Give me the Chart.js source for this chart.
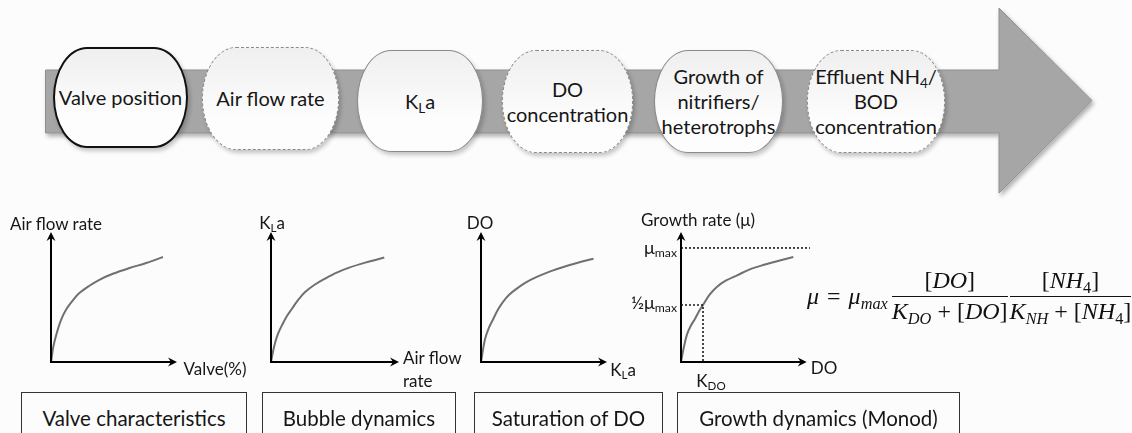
<!DOCTYPE html>
<html><head><meta charset="utf-8">
<script src="https://cdn.jsdelivr.net/npm/chart.js@4.4.1/dist/chart.umd.min.js"></script>
<style>
html,body{margin:0;padding:0;background:#fcfcfc;}
#stage{position:relative;width:1132px;height:433px;overflow:hidden;background:#fcfcfc;font-family:Lato,'Open Sans',sans-serif;color:#161616;}
.t{position:absolute;transform:translate(-50%,-50%);white-space:nowrap;font-size:17px;}
.l{position:absolute;transform:translate(0,-50%);white-space:nowrap;font-size:17px;}
.r{position:absolute;transform:translate(-100%,-50%);white-space:nowrap;font-size:18px;}
sub{font-size:0.68em;vertical-align:-0.28em;line-height:0;}
.node{position:absolute;box-sizing:border-box;border-radius:34px/50%;background:linear-gradient(#efefef,#fdfdfd 70%);box-shadow:2px 3px 4px rgba(0,0,0,0.22);display:flex;align-items:center;justify-content:center;text-align:center;font-size:20px;line-height:25px;}
.solidk{border:2px solid #111;}
.solidg{border:1.5px solid #8a8a8a;}
.dash{border:1.5px dashed #8a8a8a;}
canvas{position:absolute;}
.cap{position:absolute;top:392px;height:70px;box-sizing:border-box;border:1.5px solid #333;font-size:20.5px;text-align:center;padding-top:13px;background:#fcfcfc;}
#eq{position:absolute;left:807px;top:296px;transform:translate(0,-50%);font-family:'Liberation Serif','DejaVu Serif',serif;font-size:24px;display:flex;align-items:center;white-space:nowrap;color:#111;}
#eq i{font-style:italic;}
#eq .eqs{margin:0 8px;}
.frac{display:inline-flex;flex-direction:column;align-items:center;margin:0 1px;}
.frac .num{border-bottom:1.4px solid #111;padding:0 2px 2px;width:100%;text-align:center;box-sizing:border-box;}
.frac .den{padding-top:1px;}
#eq sub{font-size:0.68em;vertical-align:-0.32em;}
</style></head>
<body>
<div id="stage">
<svg width="1132" height="433" style="position:absolute;left:0;top:0">
<defs><filter id="sh" x="-10%" y="-10%" width="130%" height="130%"><feDropShadow dx="2" dy="3" stdDeviation="2" flood-color="#000" flood-opacity="0.3"/></filter></defs>
<polygon points="45.5,70 999,70 999,8 1092,100.5 999,193 999,133 45.5,133" fill="#a6a6a6" stroke="#8f8f8f" stroke-width="1" filter="url(#sh)"/>
</svg>
<div class="node solidk" style="left:53px;top:47px;width:135px;height:101px;"><span>Valve position</span></div>
<div class="node dash" style="left:202px;top:47px;width:137px;height:103px;"><span>Air flow rate</span></div>
<div class="node solidg" style="left:357px;top:50px;width:126px;height:102px;"><span>K<sub>L</sub>a</span></div>
<div class="node dash" style="left:502px;top:50px;width:131px;height:103px;"><span>DO<br>concentration</span></div>
<div class="node solidg" style="left:654px;top:50px;width:129px;height:103px;"><span>Growth of<br>nitrifiers/<br>heterotrophs</span></div>
<div class="node dash" style="left:807px;top:50px;width:138px;height:103px;"><span>Effluent NH<sub>4</sub>/<br>BOD<br>concentration</span></div>

<canvas id="c1"></canvas><canvas id="c2"></canvas><canvas id="c3"></canvas><canvas id="c4"></canvas>

<div class="t" style="left:56px;top:223px;">Air flow rate</div>
<div class="t" style="left:215px;top:368px;">Valve(%)</div>
<div class="t" style="left:272px;top:222px;">K<sub>L</sub>a</div>
<div class="l" style="left:403px;top:357px;">Air flow</div>
<div class="l" style="left:403px;top:380px;">rate</div>
<div class="t" style="left:480px;top:222px;">DO</div>
<div class="t" style="left:623px;top:369px;">K<sub>L</sub>a</div>
<div class="t" style="left:698px;top:219px;">Growth rate (μ)</div>
<div class="r" style="left:677px;top:247px;">μ<sub>max</sub></div>
<div class="r" style="left:677px;top:302px;">½μ<sub>max</sub></div>
<div class="t" style="left:711px;top:380px;">K<sub>DO</sub></div>
<div class="t" style="left:824px;top:367px;">DO</div>

<div class="cap" style="left:21px;width:226px;">Valve characteristics</div>
<div class="cap" style="left:262px;width:194px;">Bubble dynamics</div>
<div class="cap" style="left:474px;width:189px;">Saturation of DO</div>
<div class="cap" style="left:677px;width:283px;">Growth dynamics (Monod)</div>

<div id="eq"><i>μ</i><span class="eqs">=</span><i>μ<sub>max</sub></i>
<span class="frac" style="margin-left:4px"><span class="num">[<i>DO</i>]</span><span class="den"><i>K<sub>DO</sub></i> + [<i>DO</i>]</span></span>
<span class="frac"><span class="num">[<i>NH</i><sub>4</sub>]</span><span class="den"><i>K<sub>NH</sub></i> + [<i>NH</i><sub>4</sub>]</span></span>
</div>
</div>
<script>
// ---- data (normalised units) ----
const valveX = [0, 2.1, 5.1, 9.0, 13.4, 19.4, 25.3, 34.3, 43.2, 55.2, 70.1, 85.0, 100];
const valveY = [0, 14.6, 27.4, 40.1, 49.7, 58.5, 65.6, 72.6, 78.3, 84.0, 89.5, 94.3, 100];
const valveAxisEnd = [112.5, 123.8];

const bubbleX = [0, 1.9, 3.8, 6.5, 9.7, 13.8, 18.6, 24, 30.1, 38.5, 47.8, 58, 69, 84, 100];
const bubbleY = [0, 10.5, 19.2, 27.8, 35.2, 43.5, 51.2, 59.5, 67, 74, 79.9, 85.6, 90.4, 95.4, 100];
const bubbleAxisEnd = [113, 124.5];

const satX = [0, 1.8, 3.6, 7, 11, 15, 19.6, 25, 31.8, 40, 49.6, 61, 73.3, 86, 100];
const satY = [0, 12, 22.3, 33, 41.9, 50.5, 58.1, 65, 71, 77, 82.3, 87.5, 92, 96, 100];
const satAxisEnd = [112, 125.8];

const monodX = [0, 0.12, 0.27, 0.45, 0.64, 0.82, 1, 1.3, 1.64, 2.05, 2.55, 3.1, 3.73, 4.4, 5.1];
const monodY = [0, 0.12, 0.24, 0.32, 0.38, 0.445, 0.5, 0.59, 0.66, 0.715, 0.76, 0.81, 0.85, 0.885, 0.92];
const monodAxisEnd = [5.71, 1.14];
const muMax = 1, halfMu = 0.5, kDO = 1, muMaxLineEnd = 5.86;

// ---- layout (pixels) ----
const PAD = 12;
const layouts = {
  c1: {ox: 51, oy: 362, w: 126, h: 130},
  c2: {ox: 271, oy: 362, w: 128, h: 130},
  c3: {ox: 481, oy: 362, w: 126, h: 130},
  c4: {ox: 681, oy: 362, w: 129, h: 130}
};

function pts(xs, ys){ return xs.map((x,i)=>({x, y: ys[i]})); }

function arrowHead(ctx, x, y, dir){
  const L = 9, W = 4.5, N = 6;
  ctx.beginPath();
  if (dir === 'right'){
    ctx.moveTo(x, y); ctx.lineTo(x-L, y-W); ctx.lineTo(x-N, y); ctx.lineTo(x-L, y+W);
  } else {
    ctx.moveTo(x, y); ctx.lineTo(x-W, y+L); ctx.lineTo(x, y+N); ctx.lineTo(x+W, y+L);
  }
  ctx.closePath(); ctx.fill();
}

const axesArrows = {
  id: 'axesArrows',
  afterDatasetsDraw(chart, args, opts){
    const {ctx, scales:{x, y}} = chart;
    const x0 = x.getPixelForValue(0), y0 = y.getPixelForValue(0);
    const x1 = x.getPixelForValue(opts.xEnd), y1 = y.getPixelForValue(opts.yEnd);
    ctx.save();
    ctx.strokeStyle = '#000'; ctx.fillStyle = '#000'; ctx.lineWidth = 2;
    ctx.beginPath();
    ctx.moveTo(x0-1, y0); ctx.lineTo(x1-5, y0);
    ctx.moveTo(x0, y0+1); ctx.lineTo(x0, y1+5);
    ctx.stroke();
    arrowHead(ctx, x1, y0, 'right');
    arrowHead(ctx, x0, y1, 'up');
    ctx.restore();
  }
};

function curveDs(data){
  return {data, showLine: true, pointRadius: 0, borderColor: '#707070', borderWidth: 2,
          tension: 0.35, clip: false};
}
function dotDs(data){
  return {data, showLine: true, pointRadius: 0, borderColor: '#1a1a1a', borderWidth: 1.6,
          borderDash: [2, 2], tension: 0, clip: false};
}

function makeChart(id, datasets, xMax, yMax, axisEnd){
  const L = layouts[id];
  const cv = document.getElementById(id);
  cv.width = L.w + 2*PAD; cv.height = L.h + 2*PAD;
  cv.style.left = (L.ox - PAD) + 'px';
  cv.style.top = (L.oy - L.h - PAD) + 'px';
  return new Chart(cv, {
    type: 'scatter',
    data: {datasets},
    options: {
      responsive: false, animation: false, events: [],
      layout: {padding: PAD},
      plugins: {legend: {display: false}, tooltip: {enabled: false},
                axesArrows: {xEnd: axisEnd[0], yEnd: axisEnd[1]}},
      scales: {
        x: {type: 'linear', display: false, min: 0, max: xMax},
        y: {type: 'linear', display: false, min: 0, max: yMax}
      }
    },
    plugins: [axesArrows]
  });
}

makeChart('c1', [curveDs(pts(valveX, valveY))], valveAxisEnd[0], valveAxisEnd[1], valveAxisEnd);
makeChart('c2', [curveDs(pts(bubbleX, bubbleY))], bubbleAxisEnd[0], bubbleAxisEnd[1], bubbleAxisEnd);
makeChart('c3', [curveDs(pts(satX, satY))], satAxisEnd[0], satAxisEnd[1], satAxisEnd);
makeChart('c4', [
  dotDs([{x: 0, y: muMax}, {x: muMaxLineEnd, y: muMax}]),
  dotDs([{x: 0, y: halfMu}, {x: kDO, y: halfMu}, {x: kDO, y: 0}]),
  curveDs(pts(monodX, monodY))
], muMaxLineEnd, monodAxisEnd[1], monodAxisEnd);
</script>
</body></html>
